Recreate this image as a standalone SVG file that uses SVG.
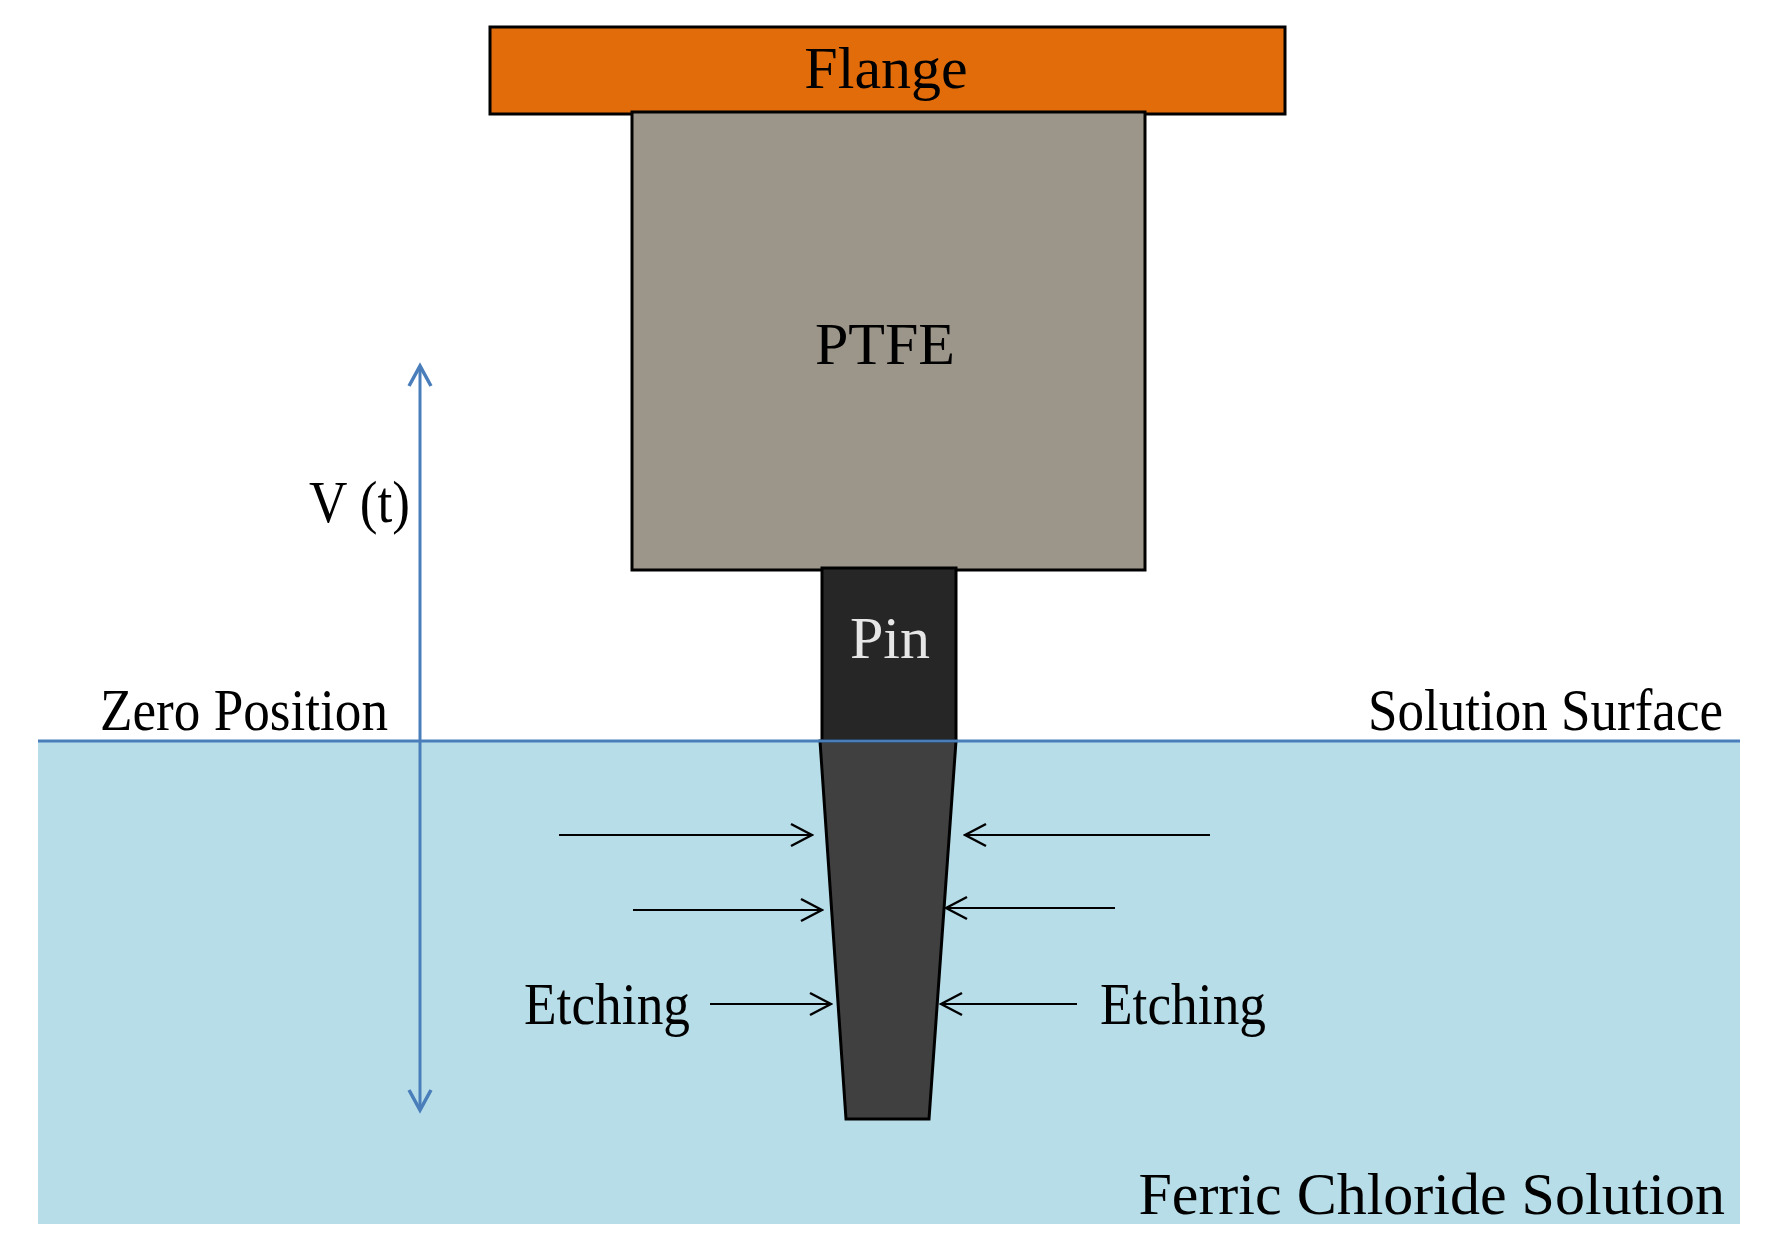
<svg xmlns="http://www.w3.org/2000/svg" width="1773" height="1259" viewBox="0 0 1773 1259">
<style>
text{font-family:"Liberation Serif","Times New Roman",serif;font-size:60px;fill:#000}
.blk{stroke:#000;stroke-width:3}
.arr{stroke:#000;stroke-width:2;fill:none}
</style>
<defs>
<marker id="ah" viewBox="0 0 26 26" refX="24" refY="13" markerWidth="26" markerHeight="26" markerUnits="userSpaceOnUse" orient="auto"><path d="M3 2 L24 13 L3 24" fill="none" stroke="#000" stroke-width="2.5"/></marker>
<marker id="bh" viewBox="0 0 26 26" refX="22" refY="13" markerWidth="26" markerHeight="26" markerUnits="userSpaceOnUse" orient="auto"><path d="M2 2 L22 13 L2 24" fill="none" stroke="#4a7ebb" stroke-width="3.5"/></marker>
</defs>
<rect width="1773" height="1259" fill="#fff"/>
<g id="solution"><rect x="38" y="741" width="1702" height="483" fill="#b7dde8"/><text x="1725" y="1214" text-anchor="end">Ferric Chloride Solution</text></g>
<g id="flange"><rect class="blk" x="490" y="27" width="795" height="87" fill="#e36c0a"/><text x="886" y="88" text-anchor="middle">Flange</text></g>
<g id="ptfe"><rect class="blk" x="632" y="112" width="513" height="458" fill="#9c958a"/><text x="885" y="364" text-anchor="middle">PTFE</text></g>
<g id="pin"><rect class="blk" x="822" y="568" width="134" height="173" fill="#262626"/><text x="890" y="658" text-anchor="middle" style="fill:#e6e6e6">Pin</text></g>
<g id="pin-etched"><polygon class="blk" points="820,741 956,741 929,1119 846,1119" fill="#404040"/></g>
<g id="connectors">
<line x1="38" y1="741" x2="1740" y2="741" stroke="#4a7ebb" stroke-width="3"/>
<line x1="420" y1="740" x2="420" y2="366" stroke="#4a7ebb" stroke-width="3" marker-end="url(#bh)"/>
<line x1="420" y1="740" x2="420" y2="1110" stroke="#4a7ebb" stroke-width="3" marker-end="url(#bh)"/>
<line class="arr" x1="559" y1="835" x2="812" y2="835" marker-end="url(#ah)"/>
<line class="arr" x1="1210" y1="835" x2="965" y2="835" marker-end="url(#ah)"/>
<line class="arr" x1="633" y1="910" x2="822" y2="910" marker-end="url(#ah)"/>
<line class="arr" x1="1115" y1="908" x2="946" y2="908" marker-end="url(#ah)"/>
<line class="arr" x1="710" y1="1004" x2="831" y2="1004" marker-end="url(#ah)"/>
<line class="arr" x1="1077" y1="1004" x2="941" y2="1004" marker-end="url(#ah)"/>
</g>
<g id="labels">
<text x="309" y="522" textLength="101" lengthAdjust="spacingAndGlyphs">V (t)</text>
<text x="100" y="730" textLength="288" lengthAdjust="spacingAndGlyphs">Zero Position</text>
<text x="1368" y="730" textLength="355" lengthAdjust="spacingAndGlyphs">Solution Surface</text>
<text x="524" y="1024" textLength="166" lengthAdjust="spacingAndGlyphs">Etching</text>
<text x="1100" y="1024" textLength="166" lengthAdjust="spacingAndGlyphs">Etching</text>
</g>
</svg>
